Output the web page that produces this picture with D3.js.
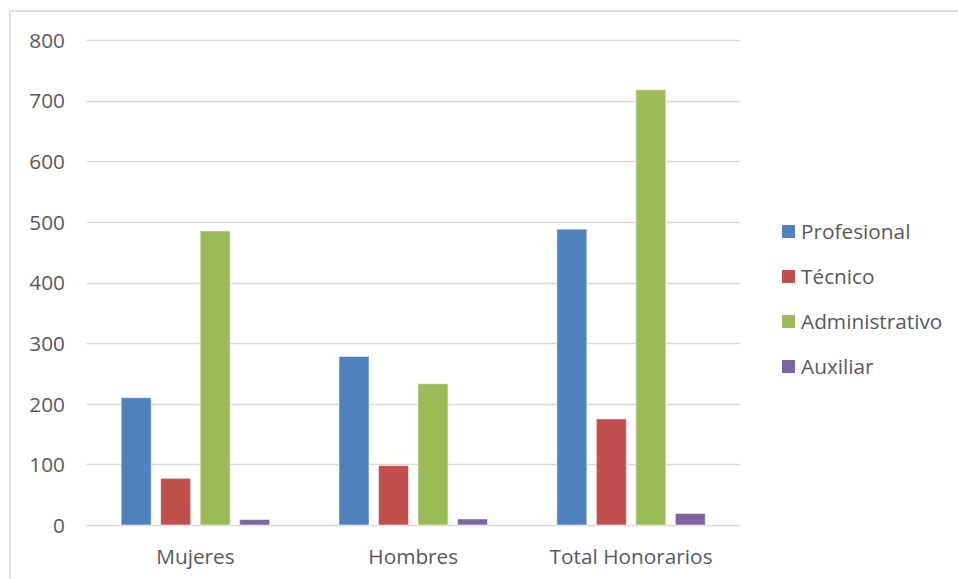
<!DOCTYPE html>
<html><head><meta charset="utf-8">
<script src="https://cdn.jsdelivr.net/npm/d3@7"></script>
<style>
html,body{margin:0;padding:0;background:#fff;}
svg{display:block;}
text{font-family:"Open Sans",sans-serif;fill:#595959;}
</style></head>
<body>
<script>
const categories = ["Mujeres", "Hombres", "Total Honorarios"];
const seriesNames = ["Profesional", "Técnico", "Administrativo", "Auxiliar"];
const profesional = [210, 278, 488];
const tecnico = [77, 98, 175];
const administrativo = [485, 233, 718];
const auxiliar = [9, 10, 19];
const yTicks = [0, 100, 200, 300, 400, 500, 600, 700, 800];
const colors = ["#4F81BD", "#C0504D", "#9BBB59", "#8064A2"];

const seriesValues = [profesional, tecnico, administrativo, auxiliar];
const W = 958, H = 579;
const FS = "20.8px";
const svg = d3.select("body").append("svg").attr("width", W).attr("height", H);

// chart frame
svg.append("rect").attr("x", 10).attr("y", 11).attr("width", 1000).attr("height", 700)
  .attr("fill", "none").attr("stroke", "#D4D4D4").attr("stroke-width", 1.5);

const pLeft = 86.5, pRight = 740, pTop = 40, pBottom = 525;
const y = d3.scaleLinear().domain([0, 800]).range([pBottom, pTop]);
const x0 = d3.scaleBand().domain(categories).range([pLeft, pRight]).padding(0);
const groupW = 148.5;
const x1 = d3.scaleBand().domain(seriesNames)
  .range([(x0.bandwidth() - groupW) / 2, (x0.bandwidth() + groupW) / 2])
  .paddingInner(0.24).paddingOuter(0);

// gridlines
svg.append("g").selectAll("line").data(yTicks).join("line")
  .attr("x1", pLeft).attr("x2", pRight)
  .attr("y1", d => Math.round(y(d)) + 0.5).attr("y2", d => Math.round(y(d)) + 0.5)
  .attr("stroke", "#D9D9D9").attr("stroke-width", 1.3);

// y axis labels
const yAxis = d3.axisLeft(y).tickValues(yTicks).tickSize(0).tickPadding(0);
const yg = svg.append("g").attr("transform", `translate(65,0)`).call(yAxis);
yg.select(".domain").remove();
yg.selectAll("text").style("font-size", FS).style("font-family", '"Open Sans",sans-serif')
  .attr("fill", "#595959").attr("dy", "0.35em");

// bars
const data = [];
seriesValues.forEach((vals, si) => vals.forEach((v, ci) => data.push({s: seriesNames[si], c: categories[ci], v, si})));
svg.append("g").selectAll("rect").data(data).join("rect")
  .attr("x", d => x0(d.c) + x1(d.s))
  .attr("width", x1.bandwidth())
  .attr("y", d => y(d.v))
  .attr("height", d => y(0) - y(d.v))
  .attr("fill", d => colors[d.si])
  .attr("stroke", "rgba(255,255,255,0.55)").attr("stroke-width", 1);

// x axis labels
const xAxis = d3.axisBottom(x0).tickSize(0).tickPadding(0);
const xg = svg.append("g").attr("transform", `translate(0,${pBottom})`).call(xAxis);
xg.select(".domain").remove();
xg.selectAll("text").style("font-size", FS).style("font-family", '"Open Sans",sans-serif')
  .attr("fill", "#595959").attr("y", 32).attr("dy", "0.35em");

// legend
const legendY = d3.scaleBand().domain(seriesNames).range([209, 389]);
const lg = svg.append("g").selectAll("g").data(seriesNames).join("g")
  .attr("transform", d => `translate(782,${legendY(d) + legendY.bandwidth() / 2})`);
lg.append("rect").attr("x", 0).attr("y", -6.5).attr("width", 13).attr("height", 13)
  .attr("fill", (d, i) => colors[i]);
lg.append("text").attr("x", 19).attr("dy", "0.35em").style("font-size", FS).text(d => d);
</script>
</body></html>
